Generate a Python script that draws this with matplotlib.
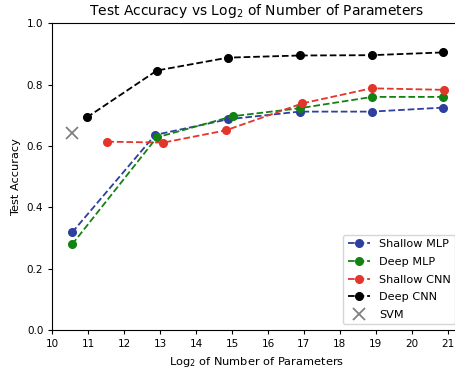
import matplotlib
matplotlib.use("Agg")
import matplotlib.pyplot as plt

# log2 of number of parameters and test accuracy per model
shallow_mlp_x = [10.55, 12.86, 14.89, 16.88, 18.88, 20.86]
shallow_mlp_y = [0.318, 0.636, 0.687, 0.712, 0.712, 0.725]

deep_mlp_x = [10.55, 12.91, 15.02, 16.88, 18.90, 20.86]
deep_mlp_y = [0.279, 0.628, 0.697, 0.723, 0.760, 0.760]

shallow_cnn_x = [11.53, 13.09, 14.83, 16.96, 18.88, 20.91]
shallow_cnn_y = [0.614, 0.611, 0.651, 0.739, 0.788, 0.783]

deep_cnn_x = [10.96, 12.91, 14.89, 16.88, 18.88, 20.86]
deep_cnn_y = [0.693, 0.846, 0.888, 0.895, 0.896, 0.905]

svm_x = [10.54]
svm_y = [0.643]


def main():
    fig = plt.figure(figsize=(4.56, 3.69), dpi=100)
    ax = fig.add_axes([0.1147, 0.1057, 0.8963, 0.8312])

    style = dict(markersize=5.5, linewidth=1.3)
    ax.plot(shallow_mlp_x, shallow_mlp_y, 'o--', color='#2f3f9f', label='Shallow MLP', **style)
    ax.plot(deep_mlp_x, deep_mlp_y, 'o--', color='#128312', label='Deep MLP', **style)
    ax.plot(shallow_cnn_x, shallow_cnn_y, 'o--', color='#e3352a', label='Shallow CNN', **style)
    ax.plot(deep_cnn_x, deep_cnn_y, 'o--', color='black', label='Deep CNN', **style)
    ax.plot(svm_x, svm_y, 'x', color='gray', markersize=8, markeredgewidth=1.3, linestyle='none', label='SVM')

    ax.set_xlim(10, 21.37)
    ax.set_ylim(0, 1.0)
    ax.set_xticks(range(10, 22))
    ax.set_yticks([0.0, 0.2, 0.4, 0.6, 0.8, 1.0])
    ax.tick_params(labelsize=7.5, length=3)
    ax.set_title("Test Accuracy vs Log$_2$ of Number of Parameters", fontsize=10)
    ax.set_xlabel("Log$_2$ of Number of Parameters", fontsize=8.2)
    ax.set_ylabel("Test Accuracy", fontsize=8.2)
    ax.legend(loc='lower right', fontsize=8.1, labelspacing=0.68)

    fig.savefig("out.png", dpi=100)


if __name__ == '__main__':
    main()
